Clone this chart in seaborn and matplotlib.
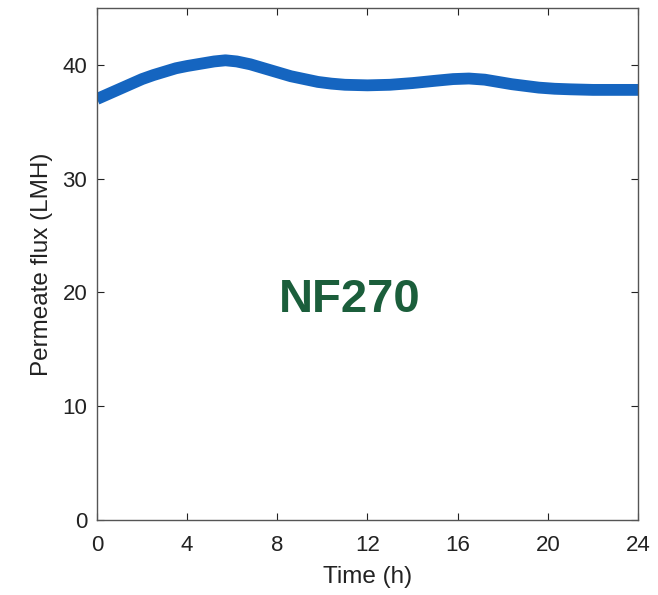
import pandas as pd
import matplotlib.pyplot as plt
import seaborn as sns

# data
time_h = [0, 0.4, 0.8, 1.2, 1.6, 2.0, 2.5, 3.0, 3.5, 4.0, 4.6, 5.2, 5.7, 6.2, 6.8, 7.4, 8.0, 8.6, 9.2, 9.8,
          10.4, 11.0, 12.0, 13.0, 14.0, 15.0, 15.8, 16.5, 17.2, 17.8, 18.4, 19.0, 19.6, 20.3, 21.0, 22.0, 23.0, 24.0]
flux_lmh = [37.0, 37.35, 37.7, 38.05, 38.4, 38.75, 39.1, 39.4, 39.7, 39.9, 40.1, 40.3, 40.4, 40.3, 40.05, 39.7, 39.35, 39.0, 38.75, 38.5,
            38.35, 38.25, 38.2, 38.25, 38.4, 38.6, 38.75, 38.8, 38.7, 38.5, 38.3, 38.15, 38.0, 37.9, 37.85, 37.8, 37.8, 37.8]

df = pd.DataFrame({"time": time_h, "flux": flux_lmh})

sns.set_theme(style="white")
plt.rcParams['font.family'] = ['Liberation Sans', 'DejaVu Sans']

fig = plt.figure(figsize=(6.58, 5.95), dpi=100)
ax = fig.add_axes([0.1474, 0.1261, 0.8222, 0.8605])

sns.lineplot(data=df, x="time", y="flux", ax=ax, color="#1565c0", linewidth=8.5,
             solid_capstyle="butt")

ax.text(11.2, 19.3, "NF270", fontsize=34, fontweight="bold", color="#1b5e3b",
        ha="center", va="center")

ax.set_xlim(0, 24)
ax.set_ylim(0, 45)
ax.set_xticks([0, 4, 8, 12, 16, 20, 24])
ax.set_yticks([0, 10, 20, 30, 40])
ax.set_xlabel("Time (h)", fontsize=17.5, color="#222222", labelpad=7)
ax.set_ylabel("Permeate flux (LMH)", fontsize=17.5, color="#222222", labelpad=7)
ax.tick_params(direction="in", length=5, width=0.8, labelsize=16, colors="#222222",
               top=True, right=True, bottom=True, left=True)
ax.tick_params(axis="x", pad=11)
ax.tick_params(axis="y", pad=7)
for s in ax.spines.values():
    s.set_color("#555555")
    s.set_linewidth(1.0)

fig.savefig("out.png", dpi=100)
